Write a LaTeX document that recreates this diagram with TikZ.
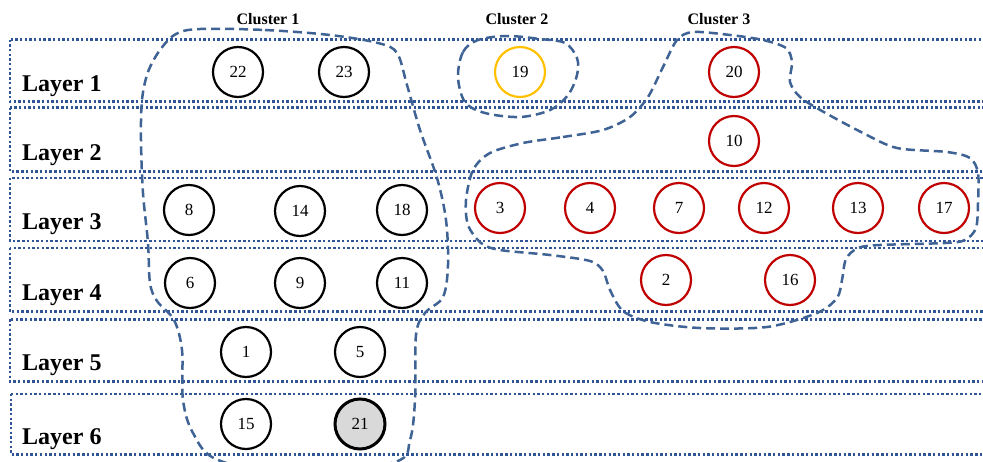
\documentclass[tikz,border=0pt]{standalone}
\usepackage{fontspec}
\setmainfont{Liberation Serif}
\definecolor{laneblue}{HTML}{2F5597}
\definecolor{groupblue}{HTML}{3E6394}
\definecolor{nodered}{HTML}{C00000}
\definecolor{nodegold}{HTML}{FFC000}
\definecolor{nodegrey}{HTML}{D9D9D9}
\tikzset{
  lane/.style={draw=laneblue, line width=2.6pt, dash pattern=on 2.4pt off 2.3pt},
  group/.style={draw=groupblue, line width=2.5pt, dash pattern=on 9pt off 5pt},
  vtx/.style={circle, draw=black, line width=2.2pt, minimum size=50pt, inner sep=0pt,
              font=\fontsize{17}{17}\selectfont},
  redv/.style={vtx, draw=nodered},
  goldv/.style={vtx, draw=nodegold},
  greyv/.style={vtx, fill=nodegrey, line width=3pt},
  lanelabel/.style={anchor=base west, inner sep=0pt, font=\fontsize{24}{24}\selectfont\bfseries},
  grouplabel/.style={anchor=base, inner sep=0pt, font=\fontsize{16}{16}\selectfont\bfseries},
}
\begin{document}
\begin{tikzpicture}[x=1pt, y=-1pt]
\clip (0,0) rectangle (983,461);
\fill[white] (0,0) rectangle (983,461);

% layer bands (open on the right)
\draw[lane] (10,39.5)  rectangle (995,101.7);
\draw[lane] (10,107.7) rectangle (995,171.7);
\draw[lane] (10,178)   rectangle (995,241);
\draw[lane] (10,248)   rectangle (995,311.7);
\draw[lane] (10,319.3) rectangle (995,381.7);
\draw[lane] (11,394)   rectangle (995,454.5);

\node[lanelabel] (l1) at (22,91)    {Layer 1};
\node[lanelabel] (l2) at (22,160.5) {Layer 2};
\node[lanelabel] (l3) at (22,229.5) {Layer 3};
\node[lanelabel] (l4) at (22,300)   {Layer 4};
\node[lanelabel] (l5) at (22,370.5) {Layer 5};
\node[lanelabel] (l6) at (22,444.5) {Layer 6};

\node[grouplabel] (c1) at (268,24) {Cluster 1};
\node[grouplabel] (c2) at (517,24) {Cluster 2};
\node[grouplabel] (c3) at (719,24) {Cluster 3};

% cluster outlines
\draw[group] plot[smooth cycle, tension=0.55] coordinates {
  (200,29) (265,30) (330,35) (378,43) (397,53) (407,85) (420,130) (437,178)
  (446,220) (448,265) (443,297) (425,313) (416,335) (415,400) (410,440)
  (395,462) (300,476) (218,460) (193,433) (183,400) (182,350) (174,320)
  (157,301) (150,283) (148,243) (143,193) (141,140) (142,100) (148,72)
  (160,50) (176,34)};

\draw[group] plot[smooth cycle, tension=0.55] coordinates {
  (458,77) (463,52) (478,40) (507,36) (540,39) (565,43) (577,58) (577,75)
  (568,95) (550,110) (520,117) (485,113) (465,102)};

\draw[group] plot[smooth cycle, tension=0.5] coordinates {
  (523,143) (563,137) (603,130) (630,117) (648,97) (663,67) (677,40)
  (693,32) (730,35) (763,40) (786,48) (792,62) (790,82) (800,97) (822,111)
  (863,133) (897,148) (947,152) (970,158) (978,173) (978,203) (976,228)
  (965,240) (945,243) (880,245) (858,248) (846,259) (842,280) (837,298)
  (817,313) (767,327) (700,328) (650,322) (623,311) (610,290) (603,271)
  (590,261) (550,255) (500,250) (481,243) (468,225) (466,200) (473,170)
  (490,153)};

% vertices
\node[vtx]   (n22) at (238,72)  {22};
\node[vtx]   (n23) at (344,72)  {23};
\node[goldv] (n19) at (520,72)  {19};
\node[redv]  (n20) at (734,72)  {20};
\node[redv]  (n10) at (734,141) {10};

\node[vtx]   (n8)  at (189,210) {8};
\node[vtx]   (n14) at (300,211) {14};
\node[vtx]   (n18) at (402,210) {18};
\node[redv]  (n3)  at (500,208) {3};
\node[redv]  (n4)  at (590,208) {4};
\node[redv]  (n7)  at (679,208) {7};
\node[redv]  (n12) at (764,208) {12};
\node[redv]  (n13) at (858,208) {13};
\node[redv]  (n17) at (944,208) {17};

\node[vtx]   (n6)  at (190,283) {6};
\node[vtx]   (n9)  at (300,283) {9};
\node[vtx]   (n11) at (402,283) {11};
\node[redv]  (n2)  at (666,280) {2};
\node[redv]  (n16) at (790,280) {16};

\node[vtx]   (n1)  at (246,352) {1};
\node[vtx]   (n5)  at (360,352) {5};
\node[vtx]   (n15) at (246,424) {15};
\node[greyv] (n21) at (360,424) {21};
\end{tikzpicture}
\end{document}
